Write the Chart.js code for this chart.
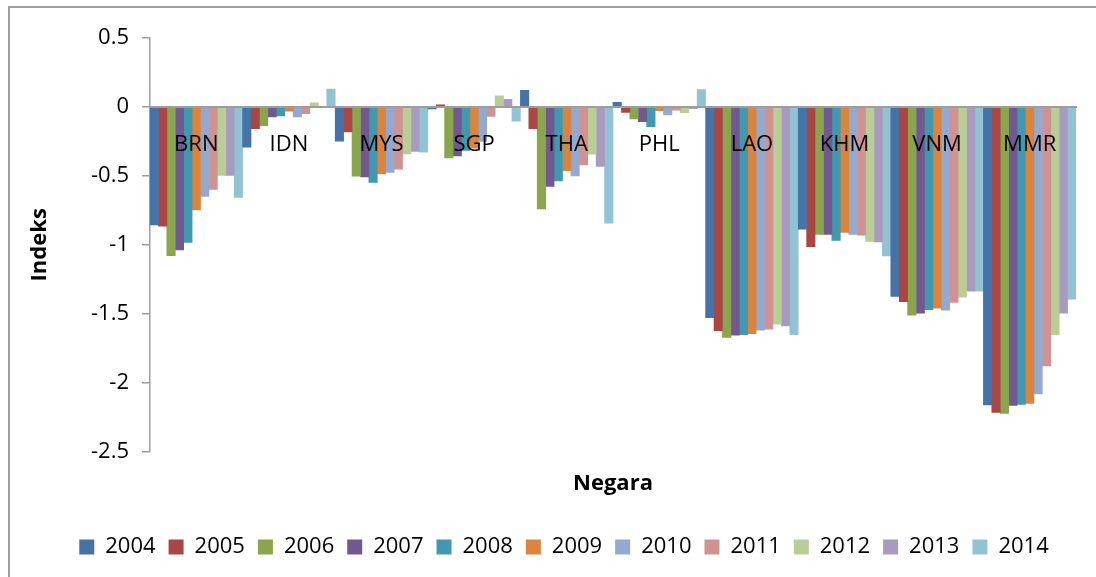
<!DOCTYPE html>
<html>
<head>
<meta charset="utf-8">
<script src="https://cdn.jsdelivr.net/npm/chart.js"></script>
<style>
    body { margin: 0; background: #fff; overflow: hidden; }
    #frame { position: absolute; left: 8px; top: 6px; width: 2000px; height: 2000px;
             border-left: 2px solid #a0a0a0; border-top: 2px solid #a0a0a0; }
    #chart { position: absolute; left: 0; top: 0; }
</style>
</head>
<body>
<div id="frame"></div>
<canvas id="chart" width="1102" height="577"></canvas>
<script>
// Categories and tick values
const countries = ['BRN', 'IDN', 'MYS', 'SGP', 'THA', 'PHL', 'LAO', 'KHM', 'VNM', 'MMR'];
const years = ['2004', '2005', '2006', '2007', '2008', '2009', '2010', '2011', '2012', '2013', '2014'];
const yTicks = [0.5, 0, -0.5, -1, -1.5, -2, -2.5];

// Index per country, one array per year
const v2004 = [-0.856, -0.291, -0.249, -0.015, 0.121, 0.034, -1.529, -0.887, -1.375, -2.162];
const v2005 = [-0.865, -0.158, -0.182, 0.015, -0.158, -0.039, -1.622, -1.013, -1.413, -2.216];
const v2006 = [-1.079, -0.136, -0.502, -0.370, -0.740, -0.087, -1.671, -0.924, -1.511, -2.223];
const v2007 = [-1.038, -0.073, -0.507, -0.355, -0.577, -0.107, -1.656, -0.924, -1.496, -2.165];
const v2008 = [-0.982, -0.065, -0.548, -0.315, -0.536, -0.143, -1.651, -0.969, -1.471, -2.158];
const v2009 = [-0.747, -0.031, -0.485, -0.300, -0.463, -0.027, -1.644, -0.911, -1.460, -2.151];
const v2010 = [-0.649, -0.073, -0.475, -0.250, -0.500, -0.058, -1.620, -0.924, -1.474, -2.082];
const v2011 = [-0.599, -0.049, -0.451, -0.068, -0.420, -0.024, -1.612, -0.931, -1.418, -1.879];
const v2012 = [-0.497, 0.029, -0.340, 0.080, -0.342, -0.041, -1.576, -0.975, -1.380, -1.651];
const v2013 = [-0.497, 0.000, -0.322, 0.056, -0.431, -0.012, -1.588, -0.980, -1.336, -1.496];
const v2014 = [-0.657, 0.129, -0.329, -0.104, -0.844, 0.126, -1.651, -1.081, -1.336, -1.394];

const seriesValues = [v2004, v2005, v2006, v2007, v2008, v2009, v2010, v2011, v2012, v2013, v2014];
const colors = ['#4572a7', '#aa4643', '#89a54e', '#71588f', '#4198af', '#db843d',
                '#93a9cf', '#d19392', '#b9cd96', '#a99bbd', '#92c3d5'];

const FONT = "'Open Sans', sans-serif";

const datasets = years.map((yr, i) => ({
    label: yr,
    data: seriesValues[i],
    backgroundColor: colors[i],
    borderWidth: 0,
    categoryPercentage: 1,
    barPercentage: 1
}));

new Chart(document.getElementById('chart'), {
    type: 'bar',
    data: { labels: countries, datasets: datasets },
    options: {
        responsive: false,
        animation: false,
        layout: { padding: { left: 26, right: 0, top: 38, bottom: 9 } },
        scales: {
            x: {
                position: { y: 0 },
                grid: { display: false },
                // category names and zero line sit on top of the bars
                border: { display: true, color: '#9d9d9d', width: 2, z: 1 },
                ticks: {
                    z: 1,
                    padding: 17,
                    color: '#000',
                    font: { family: FONT, size: 22 },
                    maxRotation: 0,
                    autoSkip: false
                },
                afterFit: s => { s.height = 0; }
            },
            y: {
                min: -2.5,
                max: 0.5,
                afterBuildTicks: s => { s.ticks = yTicks.map(v => ({ value: v })); },
                grid: { drawOnChartArea: false, drawTicks: true, tickLength: 8, color: '#9d9d9d', lineWidth: 1.5 },
                border: { display: true, color: '#9d9d9d', width: 1.5 },
                ticks: {
                    padding: 13,
                    color: '#000',
                    font: { family: FONT, size: 22 },
                    callback: v => String(v)
                },
                title: {
                    display: true,
                    text: 'Indeks',
                    color: '#000',
                    padding: { top: 1, bottom: 0 },
                    font: { family: FONT, size: 22, weight: 'bold' }
                },
                afterFit: s => { s.width = 124; }
            },
            // empty axis on the right, only reserves space so the legend centres like the original
            y2: {
                type: 'linear',
                position: 'right',
                grid: { display: false },
                border: { display: false },
                ticks: { display: false },
                afterFit: s => { s.width = 26; }
            }
        },
        plugins: {
            legend: {
                position: 'bottom',
                labels: {
                    boxWidth: 15,
                    boxHeight: 15,
                    padding: 13,
                    color: '#000',
                    font: { family: FONT, size: 22 }
                }
            },
            title: {
                display: true,
                position: 'bottom',
                text: 'Negara',
                weight: 100,
                fullSize: false,
                color: '#000',
                padding: { top: 19, bottom: 26 },
                font: { family: FONT, size: 22, weight: 'bold' }
            },
            tooltip: { enabled: false }
        }
    }
});
</script>
</body>
</html>
